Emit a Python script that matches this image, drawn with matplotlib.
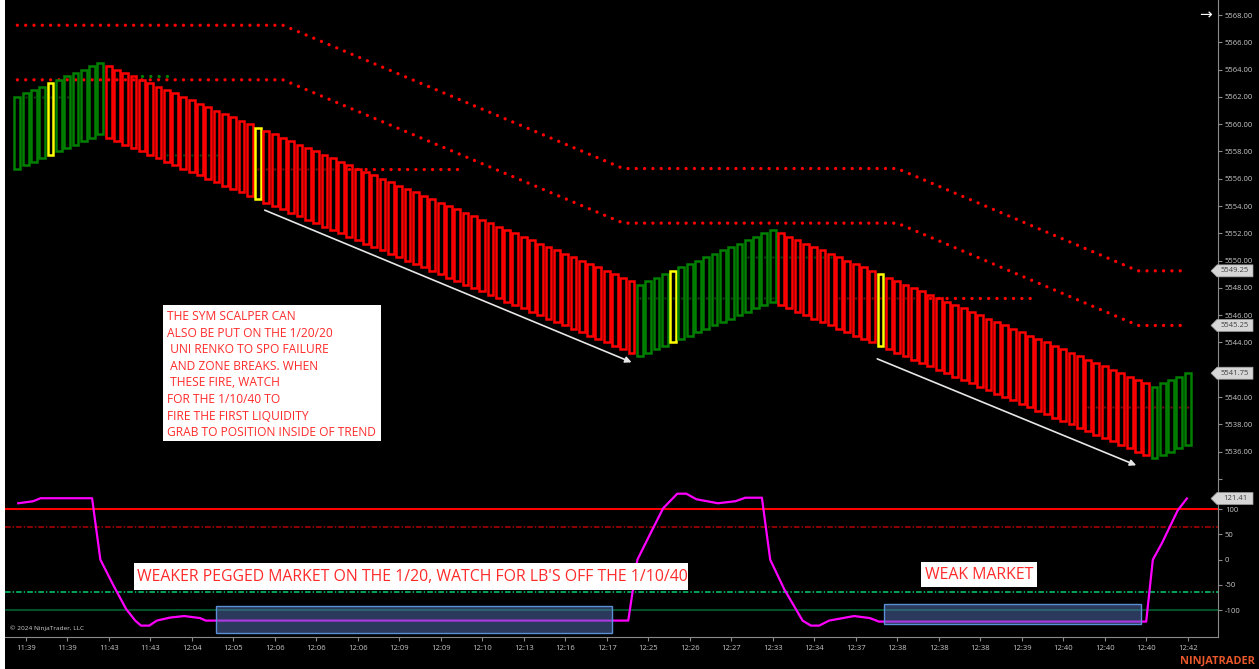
import matplotlib
matplotlib.use('Agg')
import matplotlib.pyplot as plt
from matplotlib.patches import Rectangle, Polygon
from matplotlib.transforms import IdentityTransform
import numpy as np

plt.rcParams['font.family'] = ['Open Sans', 'DejaVu Sans']
plt.rcParams['lines.scale_dashes'] = False

# ---------------- data ----------------
brick_size = 5.25
first_bar = -1
run_lengths = [11, 64, 17, 45, 5]
run_directions = ['up', 'down', 'up', 'down', 'up']
closes = [
    # run 1 (up)
    5562.00, 5562.25, 5562.50, 5562.75, 5563.00, 5563.25, 5563.50, 5563.75, 5564.00, 5564.25, 5564.50,
    # run 2 (down)
    5559.00, 5558.75, 5558.50, 5558.25, 5558.00, 5557.75, 5557.50, 5557.25, 5557.00, 5556.75,
    5556.50, 5556.25, 5556.00, 5555.75, 5555.50, 5555.25, 5555.00, 5554.75, 5554.50, 5554.25,
    5554.00, 5553.75, 5553.50, 5553.25, 5553.00, 5552.75, 5552.50, 5552.25, 5552.00, 5551.75,
    5551.50, 5551.25, 5551.00, 5550.75, 5550.50, 5550.25, 5550.00, 5549.75, 5549.50, 5549.25,
    5549.00, 5548.75, 5548.50, 5548.25, 5548.00, 5547.75, 5547.50, 5547.25, 5547.00, 5546.75,
    5546.50, 5546.25, 5546.00, 5545.75, 5545.50, 5545.25, 5545.00, 5544.75, 5544.50, 5544.25,
    5544.00, 5543.75, 5543.50, 5543.25,
    # run 3 (up)
    5548.25, 5548.50, 5548.75, 5549.00, 5549.25, 5549.50, 5549.75, 5550.00, 5550.25, 5550.50,
    5550.75, 5551.00, 5551.25, 5551.50, 5551.75, 5552.00, 5552.25,
    # run 4 (down)
    5546.75, 5546.50, 5546.25, 5546.00, 5545.75, 5545.50, 5545.25, 5545.00, 5544.75, 5544.50,
    5544.25, 5544.00, 5543.75, 5543.50, 5543.25, 5543.00, 5542.75, 5542.50, 5542.25, 5542.00,
    5541.75, 5541.50, 5541.25, 5541.00, 5540.75, 5540.50, 5540.25, 5540.00, 5539.75, 5539.50,
    5539.25, 5539.00, 5538.75, 5538.50, 5538.25, 5538.00, 5537.75, 5537.50, 5537.25, 5537.00,
    5536.75, 5536.50, 5536.25, 5536.00, 5535.75,
    # run 5 (up)
    5540.75, 5541.00, 5541.25, 5541.50, 5541.75,
]
signal_bars = [3, 28, 78, 103]

time_labels = ['11:39', '11:39', '11:43', '11:43', '12:04', '12:05', '12:06', '12:06', '12:06',
               '12:09', '12:09', '12:10', '12:13', '12:16', '12:17', '12:25', '12:26', '12:27',
               '12:33', '12:34', '12:37', '12:38', '12:38', '12:38', '12:39', '12:40', '12:40',
               '12:40', '12:42']
label_every = 5

band_x = [-1, 31, 72, 105, 134, 140]
upper_band = [5567.25, 5567.25, 5556.75, 5556.75, 5549.25, 5549.25]
lower_band = [5563.25, 5563.25, 5552.75, 5552.75, 5545.25, 5545.25]

zone_red_bright = [(39, 52, 5556.75), (109, 121, 5547.25)]
zone_red_dark = [(28, 38, 5556.75), (98, 108, 5547.25), (128, 140, 5539.25)]
zone_green_bright = [(14, 17, 5563.50)]
zone_green_dark = [(0, 6, 5562.00), (17, 24, 5557.75), (74, 90, 5547.25), (87, 98, 5550.25)]

trend_arrows = [((28.8, 5553.7), (73.0, 5542.55)), ((102.6, 5542.8), (133.8, 5535.0))]

osc_x = [-0.9, 0.9, 1.8, 8.0, 9.0, 10.6, 12.1, 13.2, 13.9, 14.9, 15.8, 17.4, 19.1, 21.0, 21.7,
         72.6, 73.7, 75.3, 76.8, 78.5, 79.6, 80.8, 83.4, 85.5, 86.7, 88.7, 89.7, 91.4, 93.6,
         94.6, 95.6, 96.8, 99.8, 101.7, 102.8, 135.0, 135.8, 136.9, 138.8, 139.9]
osc_y = [112, 116, 122, 122, 0, -52, -98, -121, -131, -131, -121, -115, -112, -116, -121,
         -121, 0, 53, 102, 131, 131, 120, 112, 116, 123, 123, 0, -59, -121,
         -131, -131, -121, -112, -116, -123, -123, 0, 33, 98, 121.41]
osc_levels = [100, 64, -65, -100]
osc_boxes = [(22.95, 70.6, -145, -91.5), (103.4, 134.4, -128.5, -89)]

price_tags = [5549.25, 5545.25, 5541.75]
hidden_price_labels = [5542]
osc_tag = 121.41

# ---------------- figure ----------------
W, H = 1259, 669
fig = plt.figure(figsize=(W / 100, H / 100), dpi=100, facecolor='black')

def fb(x0, y0, x1, y1):
    return [x0 / W, 1 - y1 / H, (x1 - x0) / W, (y1 - y0) / H]

ax = fig.add_axes(fb(5, 0, 1218, 487))
ax2 = fig.add_axes(fb(5, 487, 1218, 637), sharex=ax)
for a in (ax, ax2):
    a.set_facecolor('black')
    for s in ('top', 'left'):
        a.spines[s].set_visible(False)
    a.spines['right'].set_color('#8a8a8a')
    a.yaxis.tick_right()
    a.tick_params(axis='y', colors='#8a8a8a', labelcolor='#c8c8c8', labelsize=5.5,
                  length=3, width=0.8, pad=2)
ax.spines['bottom'].set_visible(False)
ax2.spines['bottom'].set_color('#8a8a8a')
ax.tick_params(axis='x', bottom=False, labelbottom=False)

# ---------------- bars ----------------
xs = np.arange(first_bar, first_bar + len(closes))
dirs = []
for n, d in zip(run_lengths, run_directions):
    dirs += [d] * n
closes_a = np.array(closes)
opens = np.array([c - brick_size if d == 'up' else c + brick_size for c, d in zip(closes, dirs)])
bottoms = np.minimum(opens, closes_a)
colors = []
for x, d in zip(xs, dirs):
    if x in signal_bars:
        colors.append('#ffff00')
    else:
        colors.append('#008000' if d == 'up' else '#ff0000')
ax.bar(xs, brick_size, bottom=bottoms, width=0.7, fill=False, edgecolor=colors,
       linewidth=1.8, zorder=3)

# dotted lines
dot = (0, (0.01, 5.97))
ax.plot(band_x, upper_band, color='#ff0000', lw=2.4, ls=dot, dash_capstyle='round', zorder=2)
ax.plot(band_x, lower_band, color='#ff0000', lw=2.4, ls=dot, dash_capstyle='round', zorder=2)
for x0, x1, y in zone_red_bright:
    ax.plot([x0, x1], [y, y], color='#ff0000', lw=2.4, ls=dot, dash_capstyle='round', zorder=2)
for x0, x1, y in zone_red_dark:
    ax.plot([x0, x1], [y, y], color='#6e0c0c', lw=1.8, ls=dot, dash_capstyle='round', zorder=2)
for x0, x1, y in zone_green_bright:
    ax.plot([x0, x1], [y, y], color='#008000', lw=2.4, ls=dot, dash_capstyle='round', zorder=2)
for x0, x1, y in zone_green_dark:
    ax.plot([x0, x1], [y, y], color='#0d3f0d', lw=1.8, ls=dot, dash_capstyle='round', zorder=2)

for (s, e) in trend_arrows:
    ax.annotate('', xy=e, xytext=s,
                arrowprops=dict(arrowstyle='-|>', color='#e6e6e6', lw=1.2, mutation_scale=9,
                                shrinkA=0, shrinkB=0), zorder=4)

price_ticks = list(np.arange(5536, 5569, 2))
ax.set_yticks([5534] + price_ticks)
ax.set_yticklabels([''] + ['' if v in hidden_price_labels else '%.2f' % v for v in price_ticks])
ax.set_ylim(5533.41, 5569.10)
ax.set_xlim(-2.49, 143.65)

# ---------------- oscillator ----------------
lv_styles = [('#ff0000', '-', 1.5), ('#b50000', (0, (4, 1.5, 1, 1.5)), 1.1),
             ('#00d070', (0, (4, 1.5, 1, 1.5)), 1.1), ('#006a35', '-', 1.1)]
for lv, (c, ls, lw) in zip(osc_levels, lv_styles):
    ax2.axhline(lv, color=c, ls=ls, lw=lw, zorder=1)
ax2.plot(osc_x, osc_y, color='#ff00ff', lw=1.6, zorder=2)
for x0, x1, y0, y1 in osc_boxes:
    ax2.add_patch(Rectangle((x0, y0), x1 - x0, y1 - y0, facecolor=(0.33, 0.45, 0.72, 0.5),
                            edgecolor='#5b8fd6', lw=1.0, zorder=3))
ax2.set_ylim(-153.6, 144.3)
ax2.set_yticks([100, 50, 0, -50, -100])
ax2.set_yticklabels(['100', '50', '0', '-50', '-100'])
ax2.set_xticks(np.arange(0, label_every * len(time_labels), label_every))
ax2.set_xticklabels(time_labels)
ax2.tick_params(axis='x', colors='#8a8a8a', labelcolor='#c8c8c8', labelsize=5.5,
                length=3, width=0.8, pad=3)

# ---------------- annotations ----------------
renderer = fig.canvas.get_renderer()

def fit(t, target):
    w = t.get_window_extent(renderer).width
    t.set_fontsize(t.get_fontsize() * target / w)

def white_box(x0, y0, x1, y1):
    fig.add_artist(Rectangle((x0 / W, 1 - y1 / H), (x1 - x0) / W, (y1 - y0) / H,
                             transform=fig.transFigure, facecolor='white', edgecolor='none',
                             zorder=5))

red_txt = '#ff2b2b'
white_box(163, 305, 381, 441)
note_lines = ['THE SYM SCALPER CAN', 'ALSO BE PUT ON THE 1/20/20', ' UNI RENKO TO SPO FAILURE',
              ' AND ZONE BREAKS. WHEN', ' THESE FIRE, WATCH', 'FOR THE 1/10/40 TO',
              'FIRE THE FIRST LIQUIDITY', 'GRAB TO POSITION INSIDE OF TREND']
objs = []
for i, line in enumerate(note_lines):
    t = fig.text(167 / W, 1 - (316.5 + 16.6 * i) / H, line, color=red_txt, fontsize=9,
                 ha='left', va='center', zorder=6)
    objs.append(t)
fit(objs[-1], 211)
for t in objs:
    t.set_fontsize(objs[-1].get_fontsize())

white_box(134, 563, 688, 590)
t = fig.text(137 / W, 1 - 577 / H, "WEAKER PEGGED MARKET ON THE 1/20, WATCH FOR LB'S OFF THE 1/10/40",
             color=red_txt, fontsize=13, ha='left', va='center', zorder=6)
fit(t, 549)
white_box(921, 562, 1037, 587)
t2 = fig.text(979 / W, 1 - 575 / H, 'WEAK MARKET', color=red_txt, fontsize=13,
              ha='center', va='center', zorder=6)
t2.set_fontsize(t.get_fontsize())

t = fig.text(10 / W, 1 - 628 / H, '\u00a9 2024 NinjaTrader, LLC', color='#d0d0d0', fontsize=6,
             ha='left', va='center', zorder=6)
fit(t, 74)
t = fig.text(1255 / W, 1 - 661 / H, 'NINJATRADER', color='#e8572a', fontsize=8,
             fontweight='bold', ha='right', va='center', zorder=6)
fit(t, 75)
fig.text(1205 / W, 1 - 15 / H, '\u2192', color='white', fontsize=11, ha='center', va='center',
         family='DejaVu Sans')

# left white strip
fig.add_artist(Rectangle((0, 0), 5 / W, 1, transform=fig.transFigure, facecolor='white',
                         edgecolor='none', zorder=5))

# price tags on the axis
def tag(axis, val, text):
    _, yd = axis.transData.transform((0, val))
    poly = Polygon([(1211, yd), (1217, yd + 6), (1253, yd + 6), (1253, yd - 6), (1217, yd - 6)],
                   closed=True, transform=IdentityTransform(), facecolor='#d6d6d6',
                   edgecolor='#a0a0a0', lw=0.5, zorder=7)
    fig.add_artist(poly)
    fig.text(1235 / W, yd / H, text, color='#404040', fontsize=5.5, ha='center', va='center',
             zorder=8)

for v in price_tags:
    tag(ax, v, '%.2f' % v)
tag(ax2, osc_tag, '%.2f' % osc_tag)

fig.savefig('out.png', dpi=100, facecolor='black')
